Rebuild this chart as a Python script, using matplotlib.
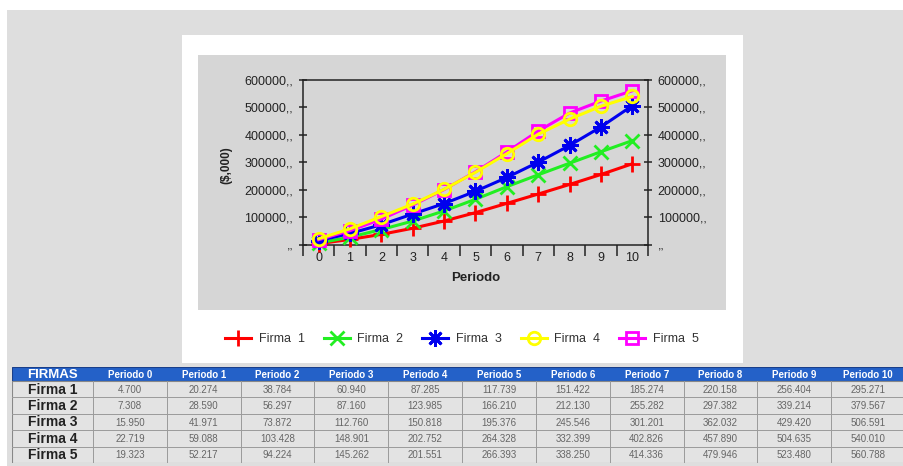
import matplotlib
matplotlib.use("Agg")
import matplotlib.pyplot as plt
from matplotlib.patches import Rectangle
from matplotlib.lines import Line2D

plt.rcParams['font.family'] = ['Liberation Sans', 'DejaVu Sans']

# ---- data ----
periods = list(range(11))
period_labels = [f"Periodo {p}" for p in periods]
firm_names = ["Firma 1", "Firma 2", "Firma 3", "Firma 4", "Firma 5"]
legend_labels = ["Firma  1", "Firma  2", "Firma  3", "Firma  4", "Firma  5"]
firma1 = [4700, 20274, 38784, 60940, 87285, 117739, 151422, 185274, 220158, 256404, 295271]
firma2 = [7308, 28590, 56297, 87160, 123985, 166210, 212130, 255282, 297382, 339214, 379567]
firma3 = [15950, 41971, 73872, 112760, 150818, 195376, 245546, 301201, 362032, 429420, 506591]
firma4 = [22719, 59088, 103428, 148901, 202752, 264328, 332399, 402826, 457890, 504635, 540010]
firma5 = [19323, 52217, 94224, 145262, 201551, 266393, 338250, 414336, 479946, 523480, 560788]
series = [firma1, firma2, firma3, firma4, firma5]
y_ticks = [0, 100000, 200000, 300000, 400000, 500000, 600000]
y_labels = [",,", "100000,,", "200000,,", "300000,,", "400000,,", "500000,,", "600000,,"]

colors = ["#ff0000", "#22ee22", "#0000ee", "#ffff00", "#ff00ff"]
markers = ["+", "x", (8, 2, 0), "o", "s"]
msizes = [12, 10, 12, 9, 8]
zorders = [3, 4, 5, 7, 6]

W, H = 904, 466
fig = plt.figure(figsize=(W / 100, H / 100), dpi=100)
fig.patch.set_facecolor("white")

# background layer axes (pixel coordinates)
bg = fig.add_axes([0, 0, 1, 1], zorder=-10)
bg.set_xlim(0, W)
bg.set_ylim(H, 0)
bg.axis("off")

def rect(x0, y0, x1, y1, **kw):
    bg.add_patch(Rectangle((x0, y0), x1 - x0, y1 - y0, **kw))

rect(7, 10, W, H, facecolor="#dedede", edgecolor="none")
rect(182, 35, 743, 363, facecolor="white", edgecolor="none")
rect(198, 55, 726, 310, facecolor="#d6d6d6", edgecolor="none")

# ---- chart ----
ax_l, ax_r, ax_t, ax_b = 303, 648, 80, 245
ax = fig.add_axes([ax_l / W, 1 - ax_b / H, (ax_r - ax_l) / W, (ax_b - ax_t) / H])
ax.set_facecolor("none")
for vals, c, m, ms, z in zip(series, colors, markers, msizes, zorders):
    mfc = "none" if m in ("o", "s") else c
    ax.plot(periods, vals, color=c, lw=2.2, marker=m, ms=ms, mew=2.0,
            mfc=mfc, mec=c, clip_on=False, zorder=z)
ax.set_xlim(-0.5, 10.5)
ax.set_ylim(0, 600000)
for s in ax.spines.values():
    s.set_color("#222222")
    s.set_linewidth(1.1)

ax.set_xticks([p - 0.5 for p in periods] + [10.5])
ax.set_xticklabels([])
ax.set_xticks(periods, minor=True)
ax.set_xticklabels([str(p) for p in periods], minor=True, fontsize=9, color="#222222")
ax.tick_params(axis="x", which="major", direction="out", length=8, width=1.1, color="#222222")
ax.tick_params(axis="x", which="minor", length=0, pad=5)

ax.set_yticks(y_ticks)
ax.set_yticklabels(y_labels, fontsize=9, color="#222222")
ax.tick_params(axis="y", direction="inout", length=6, width=1.1, color="#222222",
               left=True, right=True, labelleft=True, labelright=True, pad=4)
ax.set_xlabel("Periodo", fontsize=9.5, fontweight="bold", color="#222222", labelpad=6)
fig.text(226 / W, 1 - 165 / H, "($,000)", rotation=90, fontsize=8.5, fontweight="bold",
         color="#222222", ha="center", va="center")

# legend
handles = [Line2D([], [], color=c, lw=2.2, marker=m, ms=ms, mew=2.0,
                  mfc=("none" if m in ("o", "s") else c), mec=c)
           for c, m, ms in zip(colors, markers, msizes)]
leg = fig.legend(handles, legend_labels, loc="center", bbox_to_anchor=(462 / W, 1 - 339 / H),
                 ncol=5, frameon=False, fontsize=9, handlelength=2.1, handletextpad=0.6,
                 columnspacing=1.5, labelcolor="#333333")

# ---- table ----
tx0, tx1, ty0, ty1 = 12, 905, 367, 463
tab = fig.add_axes([tx0 / W, 1 - ty1 / H, (tx1 - tx0) / W, (ty1 - ty0) / H])
tab.set_xlim(0, tx1 - tx0)
tab.set_ylim(ty1 - ty0, 0)
tab.axis("off")
first_w = 81
col_w = (tx1 - tx0 - first_w) / 11
head_h = 14
row_h = (ty1 - ty0 - head_h) / 5

tab.add_patch(Rectangle((0, 0), tx1 - tx0, head_h, facecolor="#2461c8", edgecolor="#1a3f8a", lw=0.8))
tab.add_patch(Rectangle((0, head_h), tx1 - tx0, 5 * row_h, facecolor="#e3e3e3", edgecolor="#888888", lw=0.8))
tab.text(first_w / 2, head_h / 2 + 0.5, "FIRMAS", color="white", fontsize=9.5, fontweight="bold",
         ha="center", va="center")
for j, lab in enumerate(period_labels):
    cx = first_w + (j + 0.5) * col_w
    tab.text(cx, head_h / 2 + 0.5, lab, color="white", fontsize=7, fontweight="bold",
             ha="center", va="center")
for j in range(12):
    x = first_w + j * col_w
    tab.plot([x, x], [head_h, ty1 - ty0], color="#9a9a9a", lw=0.7)
for i in range(1, 5):
    y = head_h + i * row_h
    tab.plot([0, tx1 - tx0], [y, y], color="#9a9a9a", lw=0.7)
for i, (name, vals) in enumerate(zip(firm_names, series)):
    cy = head_h + (i + 0.5) * row_h
    tab.text(first_w / 2, cy + 0.5, name, fontsize=10, fontweight="bold", color="#222222",
             ha="center", va="center")
    for j, v in enumerate(vals):
        cx = first_w + (j + 0.5) * col_w
        tab.text(cx, cy + 0.5, f"{v:,}".replace(",", "."), fontsize=7, color="#666666",
                 ha="center", va="center")

fig.savefig("out.png", dpi=100, facecolor=fig.get_facecolor())
